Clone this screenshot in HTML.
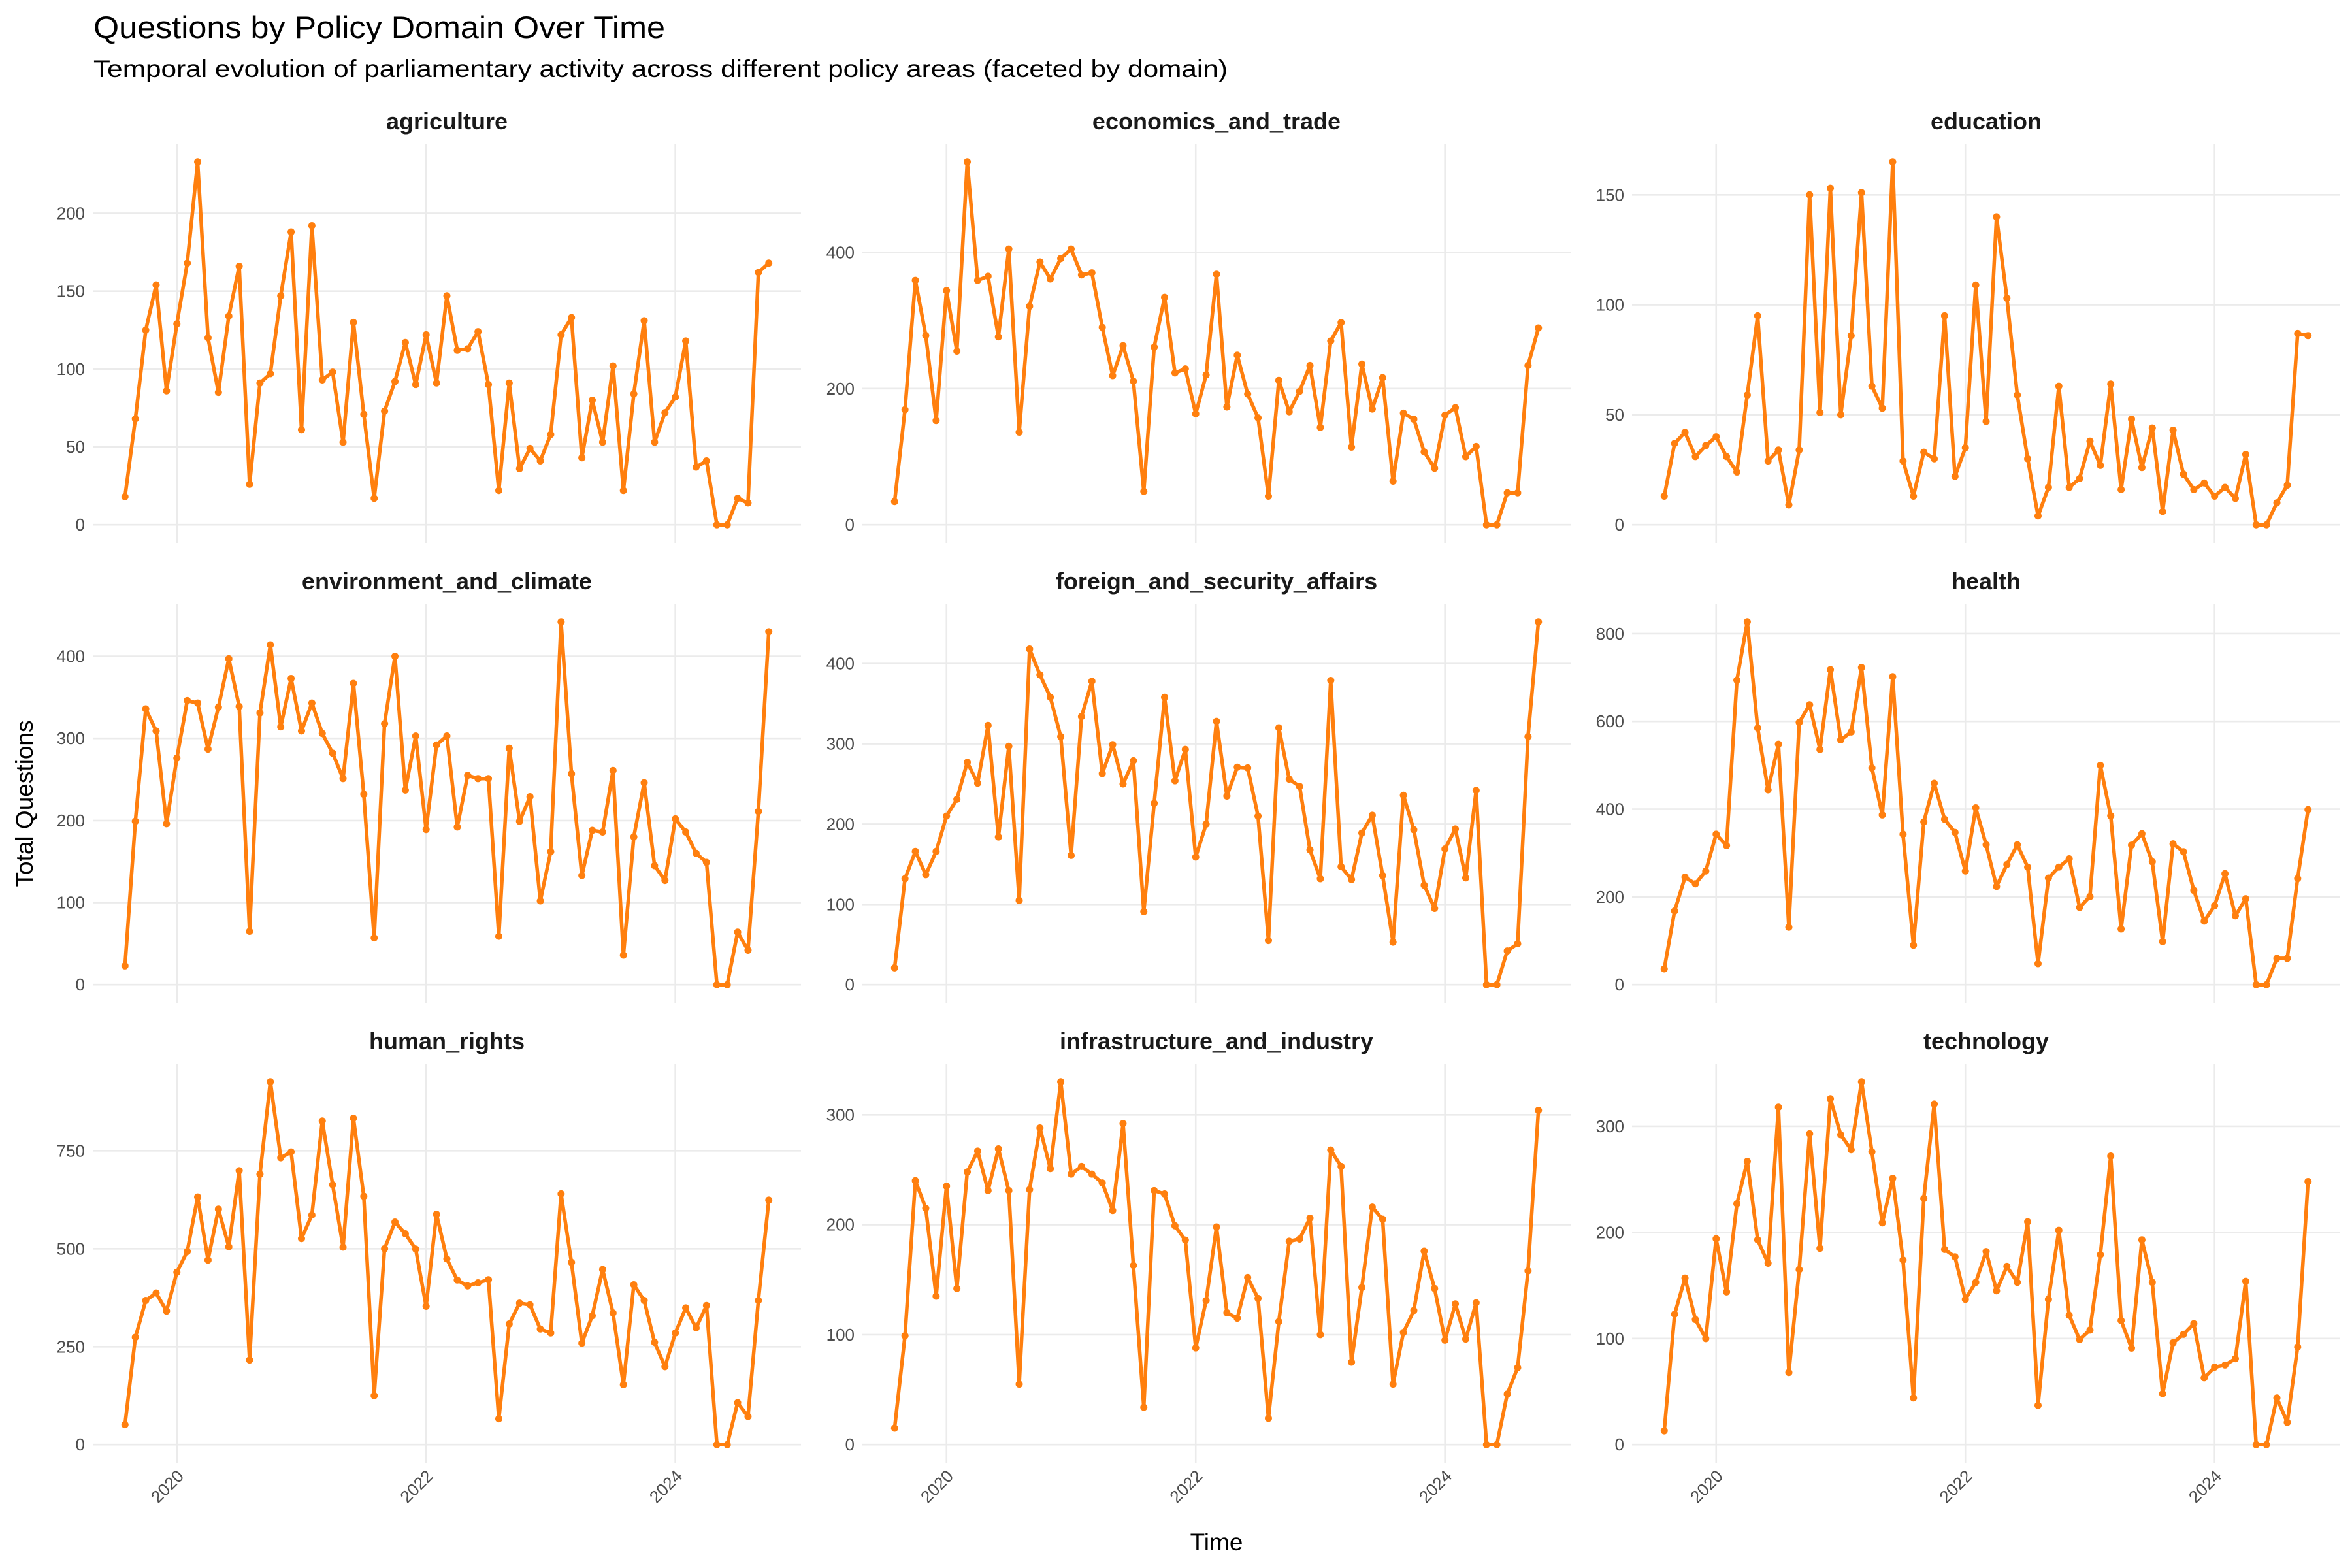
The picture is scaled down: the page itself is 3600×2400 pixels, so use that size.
<!DOCTYPE html>
<html><head><meta charset="utf-8"><style>
html,body{margin:0;padding:0;background:#fff;}
svg{display:block;font-family:"Liberation Sans",sans-serif;}
</style></head><body>
<svg id="chart" width="3600" height="2400" viewBox="0 0 3600 2400" xmlns="http://www.w3.org/2000/svg">
<rect x="0" y="0" width="3600" height="2400" fill="#ffffff"/>
<text x="143" y="58" font-size="47" fill="#000" textLength="875" lengthAdjust="spacingAndGlyphs">Questions by Policy Domain Over Time</text>
<text x="143" y="118" font-size="37" fill="#000" textLength="1736" lengthAdjust="spacingAndGlyphs">Temporal evolution of parliamentary activity across different policy areas (faceted by domain)</text>
<text x="1862" y="2373" font-size="37" fill="#000" text-anchor="middle">Time</text>
<text x="0" y="0" font-size="37" fill="#000" text-anchor="middle" transform="translate(50,1230) rotate(-90)">Total Questions</text>
<g id="panels"></g>
</svg>
<script>
// Data: monthly totals from 2019-08 to 2024-10 (63 months)
const startYear = 2019, startMonth = 8, nMonths = 63;
const domains = ["agriculture","economics_and_trade","education","environment_and_climate","foreign_and_security_affairs","health","human_rights","infrastructure_and_industry","technology"];
const agriculture = [18,68,125,154,86,129,168,233,120,85,134,166,26,91,97,147,188,61,192,93,98,53,130,71,17,73,92,117,90,122,91,147,112,113,124,90,22,91,36,49,41,58,122,133,43,80,53,102,22,84,131,53,72,82,118,37,41,0,0,17,14,162,168];
const economics_and_trade = [34,169,359,278,153,344,255,533,359,365,276,405,136,321,386,361,391,405,367,370,290,219,263,211,49,261,334,223,229,163,220,368,173,249,192,157,42,212,166,196,234,143,270,297,114,236,170,216,64,164,155,107,83,161,172,100,115,0,0,47,47,234,289];
const education = [13,37,42,31,36,40,31,24,59,95,29,34,9,34,150,51,153,50,86,151,63,53,165,29,13,33,30,95,22,35,109,47,140,103,59,30,4,17,63,17,21,38,27,64,16,48,26,44,6,43,23,16,19,13,17,12,32,0,0,10,18,87,86];
const environment_and_climate = [23,199,336,309,196,276,346,343,287,338,397,339,65,331,414,314,373,309,343,306,282,251,367,232,57,318,400,237,303,189,292,303,192,255,251,251,59,288,199,229,102,162,442,257,133,188,186,261,36,180,246,145,127,202,186,160,149,0,0,64,42,211,430];
const foreign_and_security_affairs = [21,132,166,137,166,210,231,277,251,323,184,297,105,418,386,358,309,161,334,378,263,299,250,279,91,226,358,254,293,159,200,328,235,271,270,210,55,320,256,247,168,132,379,147,131,189,211,136,53,236,193,124,95,169,194,133,242,0,0,42,51,309,452];
const health = [36,168,245,230,259,343,317,694,827,585,444,548,131,598,638,536,718,558,576,723,494,387,702,343,90,371,459,377,347,259,403,319,224,274,319,268,48,243,268,287,176,201,500,385,127,318,344,280,98,321,303,215,145,180,253,157,196,0,0,60,60,242,399];
const human_rights = [51,274,368,387,341,440,493,632,471,601,505,699,216,690,926,732,747,526,586,826,663,504,833,634,125,500,568,538,499,353,588,474,420,405,413,421,66,308,361,357,295,285,640,465,259,329,447,336,153,408,368,261,199,285,349,298,355,0,0,107,72,368,624];
const infrastructure_and_industry = [15,99,240,215,135,235,142,248,267,231,269,231,55,232,288,251,330,246,253,246,238,213,292,163,34,231,228,199,186,88,131,198,120,115,152,133,24,112,185,187,206,100,268,253,75,143,216,205,55,102,122,176,142,95,128,96,129,0,0,46,70,158,304];
const technology = [13,123,157,118,100,194,144,227,267,193,171,318,68,165,293,185,326,292,278,342,276,209,251,174,44,232,321,184,177,137,153,182,145,168,153,210,37,137,202,122,99,108,179,272,117,91,193,153,48,96,104,114,63,73,75,81,154,0,0,44,21,92,248];
const yTicksAgriculture = [0,50,100,150,200];
const yTicksEconomics = [0,200,400];
const yTicksEducation = [0,50,100,150];
const yTicksEnvironment = [0,100,200,300,400];
const yTicksForeign = [0,100,200,300,400];
const yTicksHealth = [0,200,400,600,800];
const yTicksHuman = [0,250,500,750];
const yTicksInfra = [0,100,200,300];
const yTicksTech = [0,100,200,300];
const xTickYears = [2020,2022,2024];

const series = [agriculture,economics_and_trade,education,environment_and_climate,foreign_and_security_affairs,health,human_rights,infrastructure_and_industry,technology];
const ticks = [yTicksAgriculture,yTicksEconomics,yTicksEducation,yTicksEnvironment,yTicksForeign,yTicksHealth,yTicksHuman,yTicksInfra,yTicksTech];

const NS = "http://www.w3.org/2000/svg";
const root = document.getElementById('panels');
const colX = [142,1320,2498], panelW = 1084;
const rowY = [220,924,1628], panelH = 611;
function mk(tag, attrs){ const e=document.createElementNS(NS,tag); for(const k in attrs) e.setAttribute(k,attrs[k]); return e; }

domains.forEach((dom, p) => {
  const c = p % 3, r = Math.floor(p / 3);
  const x0 = colX[c], y0 = rowY[r];
  const vals = series[p];
  const maxV = Math.max(...vals), minV = Math.min(...vals);
  const range = maxV - minV;
  const dLo = minV - 0.05*range, dHi = maxV + 0.05*range;
  const mLo = -0.05*(nMonths-1), mHi = (nMonths-1)*1.05;
  const xs = m => x0 + (m - mLo)/(mHi - mLo)*panelW;
  const ys = v => y0 + panelH - (v - dLo)/(dHi - dLo)*panelH;
  const g = mk('g',{});
  
  
  root.appendChild(g);
  // strip title
  const st = mk('text',{x:x0+panelW/2, y:y0-22, 'font-size':36, 'font-weight':'bold', fill:'#1a1a1a', 'text-anchor':'middle'});
  
  
  st.textContent = dom;
  g.appendChild(st);
  // y grid + labels
  ticks[p].forEach(t => {
    const y = ys(t);
    const gl = mk('line',{x1:x0, x2:x0+panelW, y1:y, y2:y, stroke:'#ebebeb', 'stroke-width':2.6});
    
    
    g.appendChild(gl);
    const tl = mk('text',{x:x0-12, y:y+9, 'font-size':26, fill:'#4d4d4d', 'text-anchor':'end'});
    
    
    tl.textContent = t;
    g.appendChild(tl);
  });
  // x grid
  xTickYears.forEach(yr => {
    const m = (yr - startYear)*12 + (1 - startMonth);
    const x = xs(m);
    const gl = mk('line',{x1:x, x2:x, y1:y0, y2:y0+panelH, stroke:'#ebebeb', 'stroke-width':2.6});
    
    
    g.appendChild(gl);
    if (r === 2) {
      const tl = mk('text',{x:0, y:0, 'font-size':26, fill:'#4d4d4d', 'text-anchor':'end', transform:`translate(${x+12},${y0+panelH+22}) rotate(-45)`});
      
      
      tl.textContent = yr;
      g.appendChild(tl);
    }
  });
  // line
  const pts = vals.map((v,i) => xs(i).toFixed(1)+','+ys(v).toFixed(1)).join(' ');
  const pl = mk('polyline',{points:pts, fill:'none', stroke:'#ff7f0e', 'stroke-width':5.5, 'stroke-linejoin':'round', 'stroke-linecap':'round'});
  
  
  g.appendChild(pl);
  vals.forEach((v,i) => {
    const ci = mk('circle',{cx:xs(i), cy:ys(v), r:5.5, fill:'#ff7f0e'});
    
    
    g.appendChild(ci);
  });
});
</script>
</body></html>
